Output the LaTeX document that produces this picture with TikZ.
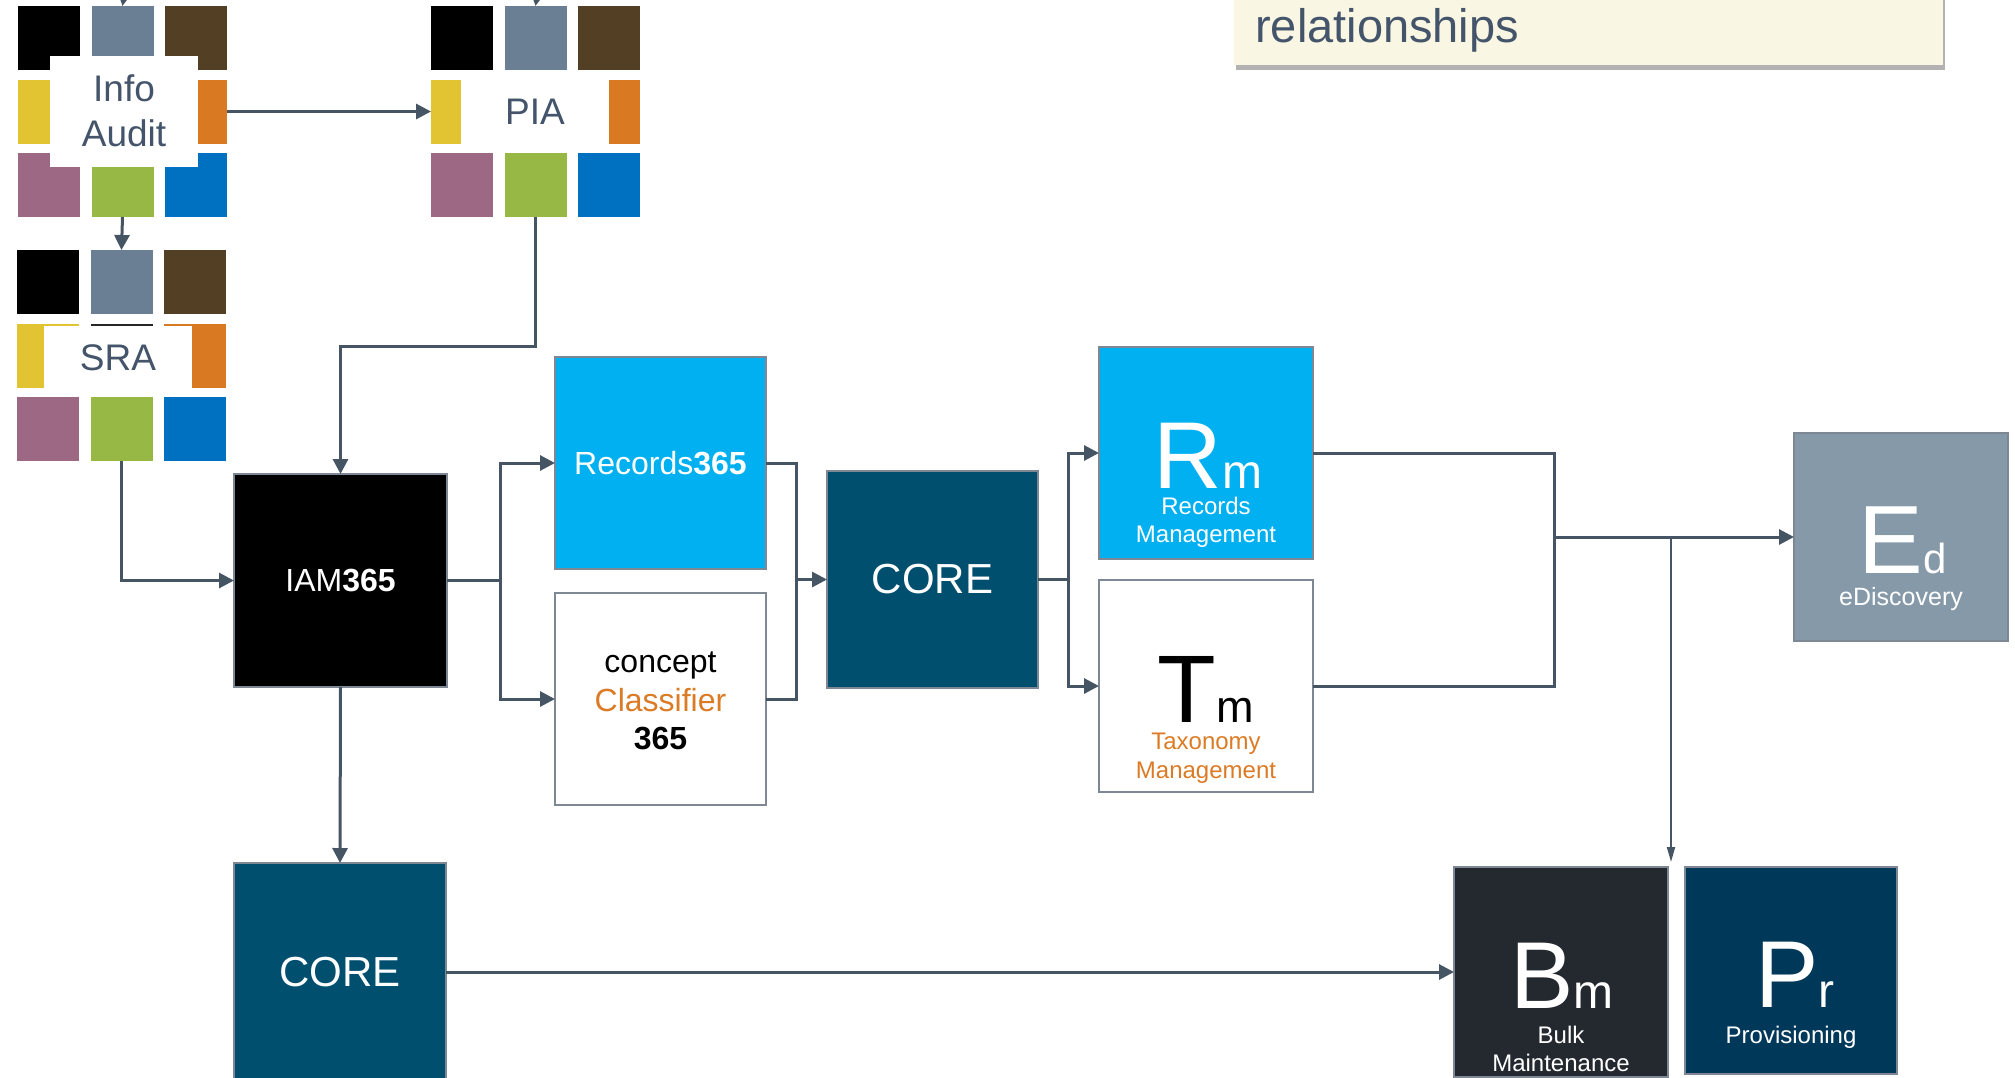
\documentclass[tikz,border=0pt]{standalone}
\usepackage{fontspec}
\setmainfont{Liberation Sans}
\usetikzlibrary{arrows.meta,shadows}
\definecolor{slate}{HTML}{44546A}
\definecolor{lineslate}{HTML}{465563}
\definecolor{bordergray}{HTML}{7D8894}
\definecolor{lightblue}{HTML}{00B0F0}
\definecolor{coreteal}{HTML}{004F6F}
\definecolor{edgray}{HTML}{8699A9}
\definecolor{bmdark}{HTML}{23292F}
\definecolor{prnavy}{HTML}{003859}
\definecolor{cream}{HTML}{FAF6E4}
\definecolor{orangetext}{HTML}{DC7B25}
\definecolor{sqblack}{HTML}{000000}
\definecolor{sqgray}{HTML}{6A7F93}
\definecolor{sqbrown}{HTML}{523F24}
\definecolor{sqyellow}{HTML}{E2C331}
\definecolor{sqorange}{HTML}{D97A22}
\definecolor{sqmauve}{HTML}{9C6884}
\definecolor{sqgreen}{HTML}{97B845}
\definecolor{sqblue}{HTML}{0071C1}
\definecolor{sqdark}{HTML}{262626}
\newcommand{\fs}[1]{\fontsize{#1}{#1}\selectfont}
\newcommand{\sqgrid}[3]{%
  \foreach \cc/\rr/\col in {1/1/sqblack,2/1/sqgray,3/1/sqbrown,1/2/sqyellow,2/2/sqdark,3/2/sqorange,1/3/sqmauve,2/3/sqgreen,3/3/sqblue}{%
    \node[sq, fill=\col] (#1-\cc\rr) at ({#2+31+(\cc-1)*73.5},{#3+32+(\rr-1)*73.5}) {};}}
\tikzset{
  sq/.style={inner sep=0pt, outer sep=0pt, minimum width=62pt, minimum height=64pt},
  labelbox/.style={fill=white, inner sep=0pt, outer sep=0pt, text=slate, align=center, font=\fs{37}},
  box/.style={draw=bordergray, line width=2.5pt, inner sep=0pt, outer sep=0pt},
  lin/.style={draw=lineslate, line width=3pt},
  conn/.style={draw=lineslate, line width=3pt, -{Triangle[length=15pt,width=15pt]}},
  connthin/.style={draw=lineslate, line width=2pt, -{Triangle[length=15pt,width=8pt]}},
  txt/.style={inner sep=0pt, outer sep=0pt, align=center},
}
\begin{document}
\begin{tikzpicture}[x=1pt,y=-1pt]
\useasboundingbox (0,0) rectangle (2015,1077);
\clip (0,0) rectangle (2015,1077);

% title box
\node[fill=cream, inner sep=0pt, minimum width=709pt, minimum height=95pt,
      drop shadow={shadow xshift=2pt, shadow yshift=-5pt, fill=black, opacity=0.3}] (titlebox) at (1588.5,17.5) {};
\node[anchor=base west, inner sep=0pt, text=slate, font=\fs{47}] (titletext) at (1255,42) {relationships};

% square grids
\sqgrid{ia}{18}{6}
\sqgrid{pia}{431}{6}
\sqgrid{sra}{17}{250}
\node[labelbox, minimum width=148pt, minimum height=111pt, font=\fontsize{37}{45}\selectfont] (infoaudit) at (124,111) {Info\\Audit};
\node[labelbox, minimum width=148pt, minimum height=79pt] (pialabel) at (535,111.5) {PIA};
\node[labelbox, minimum width=148pt, minimum height=64pt] (sralabel) at (118,358) {SRA};

% main boxes
\node[box, fill=black, minimum width=213pt, minimum height=213pt, text=white, font=\fs{32}] (iam) at (340.5,580.5) {IAM\textbf{365}};
\node[box, fill=lightblue, minimum width=211pt, minimum height=212pt, text=white, font=\fs{32}] (rec) at (660.5,463) {\raisebox{-2pt}{Records\textbf{365}}};
\node[box, fill=white, minimum width=211pt, minimum height=212pt] (cls) at (660.5,699) {};
\node[txt, text=black, font=\fontsize{32}{38.5}\selectfont] (clstext) at (660.5,701) {concept\\{\color{orangetext}Classifier}\\\textbf{365}};
\node[box, fill=coreteal, minimum width=211pt, minimum height=217pt, text=white, font=\fs{42}] (core1) at (932.5,579.5) {CORE};
\node[box, fill=lightblue, minimum width=214pt, minimum height=212pt] (rm) at (1206,453) {};
\node[box, fill=white, minimum width=214pt, minimum height=212pt] (tm) at (1206,686) {};
\node[box, fill=edgray, minimum width=214pt, minimum height=208pt] (ed) at (1901,537) {};
\node[box, fill=coreteal, minimum width=212pt, minimum height=218pt, text=white, font=\fs{42}] (core2) at (340,972) {CORE};
\node[box, fill=bmdark, minimum width=214pt, minimum height=210pt] (bm) at (1561,972) {};
\node[box, fill=prnavy, minimum width=212pt, minimum height=207pt] (pr) at (1791,970.5) {};

% symbols and captions
\node[txt, anchor=base, text=white] (rmsym) at (1208,488) {\fs{95}R\fs{48}m};
\node[txt, text=white, font=\fontsize{24}{28}\selectfont] (rmcap) at (1206,522) {Records\\Management};
\node[txt, anchor=base, text=black] (tmsym) at (1206,722) {\fs{96}T\fs{45}m};
\node[txt, text=orangetext, font=\fontsize{24}{29}\selectfont] (tmcap) at (1206,758) {Taxonomy\\Management};
\node[txt, anchor=base, text=white] (edsym) at (1903,573) {\fs{97}E\fs{42}d};
\node[txt, text=white, font=\fs{25}] (edcap) at (1901,599) {eDiscovery};
\node[txt, anchor=base, text=white] (bmsym) at (1562,1008) {\fs{95}B\fs{48}m};
\node[txt, text=white, font=\fontsize{24}{28}\selectfont] (bmcap) at (1561,1049) {Bulk\\Maintenance};
\node[txt, anchor=base, text=white] (prsym) at (1795,1007) {\fs{95}P\fs{48}r};
\node[txt, text=white, font=\fs{24}] (prcap) at (1791,1037) {Provisioning};

% connectors
\coordinate (iatop) at (124,-4);
\coordinate (piatop) at (537,-4);
\draw[conn] (iatop) -- (ia-21.north);
\draw[conn] (piatop) -- (pia-21.north);
\draw[conn] (ia-32.east) -- (pia-12.west);
\draw[conn] (ia-23.south) -- (sra-21.north);
\draw[conn] (pia-23.south) -- ++(0,129) -| (iam.north);
\draw[conn] (sra-23.south) |- (iam.west);

\coordinate (split1) at (500,580.5);
\draw[lin] (iam.east) -- (split1);
\draw[conn] (split1) |- (rec.west);
\draw[conn] (split1) |- (cls.west);
\coordinate (merge1) at (796,579.5);
\draw[lin] (rec.east) -| (merge1);
\draw[lin] (cls.east) -| (merge1);
\draw[conn] (merge1) -- (core1.west);

\coordinate (split2) at (1068,579.5);
\draw[lin] (core1.east) -- (split2);
\draw[conn] (split2) |- (rm.west);
\draw[conn] (split2) |- (tm.west);
\coordinate (merge2) at (1554,537);
\draw[lin] (rm.east) -| (merge2);
\draw[lin] (tm.east) -| (merge2);
\draw[conn] (merge2) -- (ed.west);

\coordinate (tap) at (1671,537);
\coordinate (bmpr) at (1671,862);
\draw[connthin] (tap) -- (bmpr);

\draw[conn] (iam.south) -- (core2.north);
\draw[conn] (core2.east) -- (bm.west);
\end{tikzpicture}
\end{document}
